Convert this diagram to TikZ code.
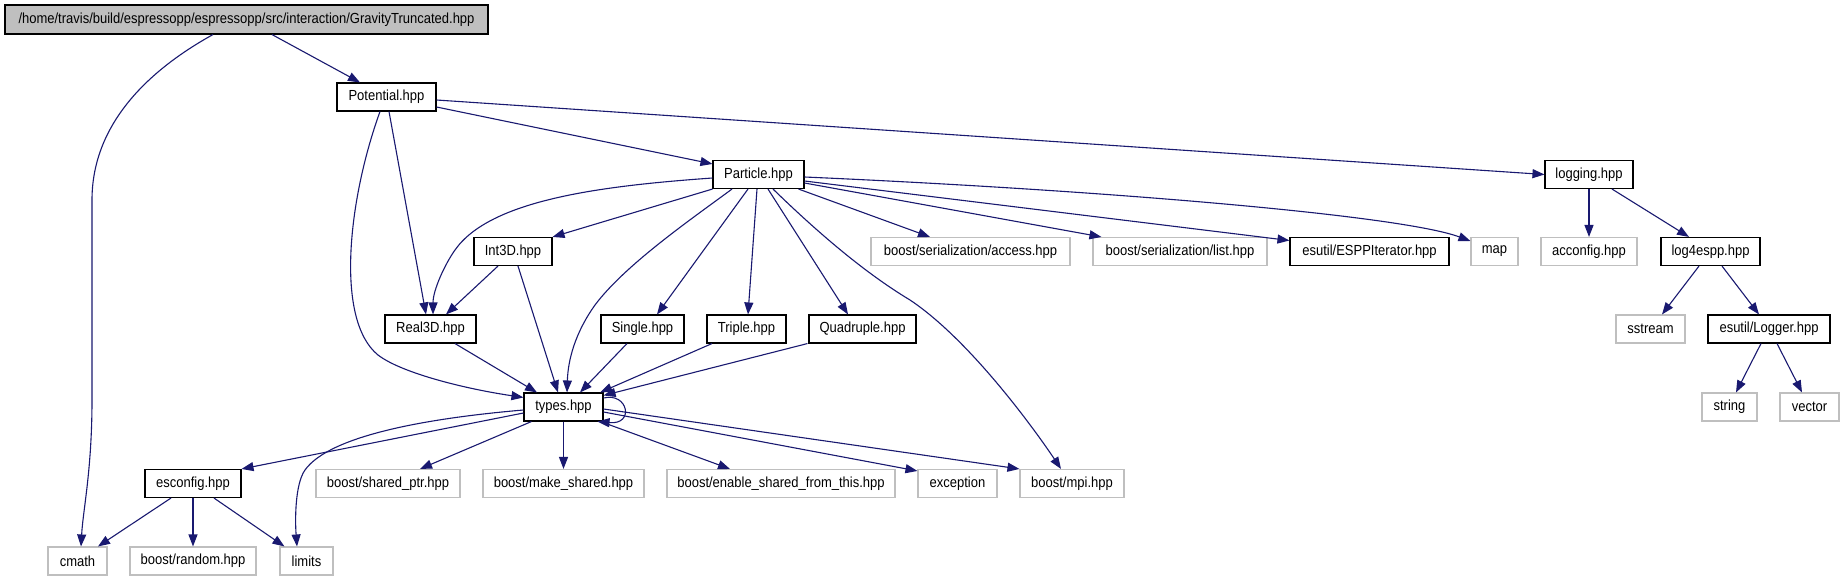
\documentclass[tikz,border=0pt]{standalone}
\usepackage{fontspec}
\setmainfont{Liberation Sans}[FakeStretch=0.89]
\usetikzlibrary{arrows.meta}
\definecolor{edgeblue}{HTML}{191970}
\definecolor{greyb}{HTML}{BFBFBF}
\begin{document}
\begin{tikzpicture}[x=1pt,y=-1pt,
  box/.style={draw=black, line width=1.1pt, minimum height=28pt, inner sep=0pt, fill=white, font=\fontsize{14.6}{16}\selectfont},
  extbox/.style={box, draw=greyb},
  topbox/.style={box, fill=greyb, minimum height=29pt},
  edge/.style={draw=edgeblue, line width=1.1pt, -{Triangle[length=12pt,width=9pt]}},
]
\fill[white] (0,0) rectangle (1844,581);
\useasboundingbox (0,0) rectangle (1844,581);

% row 0
\node[topbox, minimum width=483pt] (top) at (246.5,19.5) {/home/travis/build/espressopp/espressopp/src/interaction/GravityTruncated.hpp};
% row 1
\node[box, minimum width=99pt] (pot) at (386.5,97) {Potential.hpp};
% row 2
\node[box, minimum width=91pt] (part) at (758.5,174.5) {Particle.hpp};
\node[box, minimum width=88pt] (logging) at (1589,174.5) {logging.hpp};
% row 3
\node[box, minimum width=78pt] (int) at (513,251.5) {Int3D.hpp};
\node[extbox, minimum width=199pt] (access) at (970.5,251.5) {boost/serialization/access.hpp};
\node[extbox, minimum width=174pt] (list) at (1180,251.5) {boost/serialization/list.hpp};
\node[box, minimum width=159pt] (espp) at (1369.5,251.5) {esutil/ESPPIterator.hpp};
\node[extbox, minimum width=47pt] (map) at (1494.5,251.5) {map};
\node[extbox, minimum width=96pt] (acconfig) at (1589,251.5) {acconfig.hpp};
\node[box, minimum width=99pt] (log4) at (1710.5,251.5) {log4espp.hpp};
% row 4
\node[box, minimum width=91pt] (real) at (430.5,329) {Real3D.hpp};
\node[box, minimum width=83pt] (single) at (642.5,329) {Single.hpp};
\node[box, minimum width=79pt] (triple) at (746.5,329) {Triple.hpp};
\node[box, minimum width=107pt] (quad) at (862.5,329) {Quadruple.hpp};
\node[extbox, minimum width=69pt] (sstream) at (1650.5,329) {sstream};
\node[box, minimum width=122pt] (logger) at (1769,329) {esutil/Logger.hpp};
% row 5
\node[box, minimum width=79pt] (types) at (563.5,407) {types.hpp};
\node[extbox, minimum width=55pt] (string) at (1729.5,407) {string};
\node[extbox, minimum width=59pt] (vector) at (1809.5,407) {vector};
% row 6
\node[box, minimum width=96pt] (esconfig) at (193,483.5) {esconfig.hpp};
\node[extbox, minimum width=144pt] (sptr) at (388,483.5) {boost/shared\_ptr.hpp};
\node[extbox, minimum width=161pt] (mshared) at (563.5,483.5) {boost/make\_shared.hpp};
\node[extbox, minimum width=228pt] (enable) at (781,483.5) {boost/enable\_shared\_from\_this.hpp};
\node[extbox, minimum width=79pt] (exception) at (957.5,483.5) {exception};
\node[extbox, minimum width=104pt] (mpi) at (1072,483.5) {boost/mpi.hpp};
% row 7
\node[extbox, minimum width=59pt] (cmath) at (77.5,561) {cmath};
\node[extbox, minimum width=126pt] (random) at (193,561) {boost/random.hpp};
\node[extbox, minimum width=53pt] (limits) at (306.5,561) {limits};

% edges
\draw[edge] ([xshift=25.5]top.south) -- ([xshift=-26.5]pot.north);
\draw[edge] ([xshift=-33.5]top.south) .. controls (140,75) and (92,130) .. (92,200) -- (92,400) .. controls (92,470) and (83,510) .. ([xshift=3.5]cmath.north);

\draw[edge] ([yshift=-10]pot.east) -- ([yshift=-4]part.north west);
\draw[edge] ([yshift=-3]pot.east) -- (logging.west);
\draw[edge] ([xshift=2.5]pot.south) -- ([xshift=-4.5]real.north);
\draw[edge] ([xshift=-6.5]pot.south) .. controls (348,200) and (335,320) .. (378,355) .. controls (400,372) and (460,388) .. ([yshift=-5]types.north west);

\draw[edge] ([yshift=-3.5]part.west) .. controls (600,186) and (490,200) .. (455,250) .. controls (445,264) and (433,290) .. ([xshift=2.5]real.north);
\draw[edge] (part.south west) -- (int.north east);
\draw[edge] ([xshift=-26.5]part.south) .. controls (690,220) and (625,265) .. (595,305) .. controls (575,333) and (568,360) .. ([xshift=3.5]types.north);
\draw[edge] ([xshift=-10.5]part.south) -- ([xshift=14.5]single.north);
\draw[edge] ([xshift=-1.5]part.south) -- ([xshift=1.5]triple.north);
\draw[edge] ([xshift=9.5]part.south) -- ([xshift=-14.5]quad.north);
\draw[edge] ([xshift=14.5]part.south) .. controls (810,225) and (860,270) .. (910,300) .. controls (970,340) and (1035,430) .. ([xshift=-11]mpi.north);
\draw[edge] ([xshift=-6]part.south east) -- ([xshift=-40.5]access.north);
\draw[edge] ([yshift=-8.5]part.east) -- ([xshift=9]list.north west);
\draw[edge] ([yshift=-6.5]part.east) -- ([yshift=11]espp.west);
\draw[edge] ([yshift=-2.5]part.east) .. controls (1100,190) and (1400,215) .. ([yshift=10.5]map.west);

\draw[edge] (logging.south) -- (acconfig.north);
\draw[edge] ([xshift=23]logging.south) -- ([xshift=-21.5]log4.north);
\draw[edge] ([xshift=-11.5]log4.south) -- ([xshift=11.5]sstream.north);
\draw[edge] ([xshift=11.5]log4.south) -- ([xshift=-10]logger.north);
\draw[edge] ([xshift=-8]logger.south) -- ([xshift=6.5]string.north);
\draw[edge] ([xshift=8]logger.south) -- ([xshift=-7.5]vector.north);

\draw[edge] ([xshift=-15]int.south) -- ([xshift=15.5]real.north);
\draw[edge] ([xshift=5]int.south) -- ([xshift=-5.5]types.north);
\draw[edge] ([xshift=24.5]real.south) -- ([xshift=-26.5]types.north);
\draw[edge] ([xshift=-15.5]single.south) -- ([xshift=16.5]types.north);
\draw[edge] ([xshift=-34.5]triple.south) -- ([xshift=-3.5]types.north east);
\draw[edge] ([xshift=-1]quad.south west) -- ([yshift=-3]types.north east);
\draw[edge] ([yshift=9]types.east) .. controls (628,392) and (635,425) .. ([xshift=-6]types.south east);

\draw[edge] ([yshift=-6]types.west) -- (esconfig.north east);
\draw[edge] ([yshift=-3]types.west) .. controls (430,418) and (330,435) .. (305,470) .. controls (295,484) and (295,520) .. ([xshift=-9.5]limits.north);
\draw[edge] ([xshift=8]types.south west) -- ([xshift=32]sptr.north);
\draw[edge] (types.south) -- (mshared.north);
\draw[edge] ([xshift=-3]types.south east) -- ([xshift=-51]enable.north);
\draw[edge] ([yshift=-5]types.east) -- ([yshift=-2]exception.north west);
\draw[edge] ([yshift=-2]types.east) -- (mpi.north west);

\draw[edge] ([xshift=-22]esconfig.south) -- ([xshift=20.5]cmath.north);
\draw[edge] (esconfig.south) -- (random.north);
\draw[edge] ([xshift=21]esconfig.south) -- ([xshift=5]limits.north west);
\end{tikzpicture}
\end{document}
